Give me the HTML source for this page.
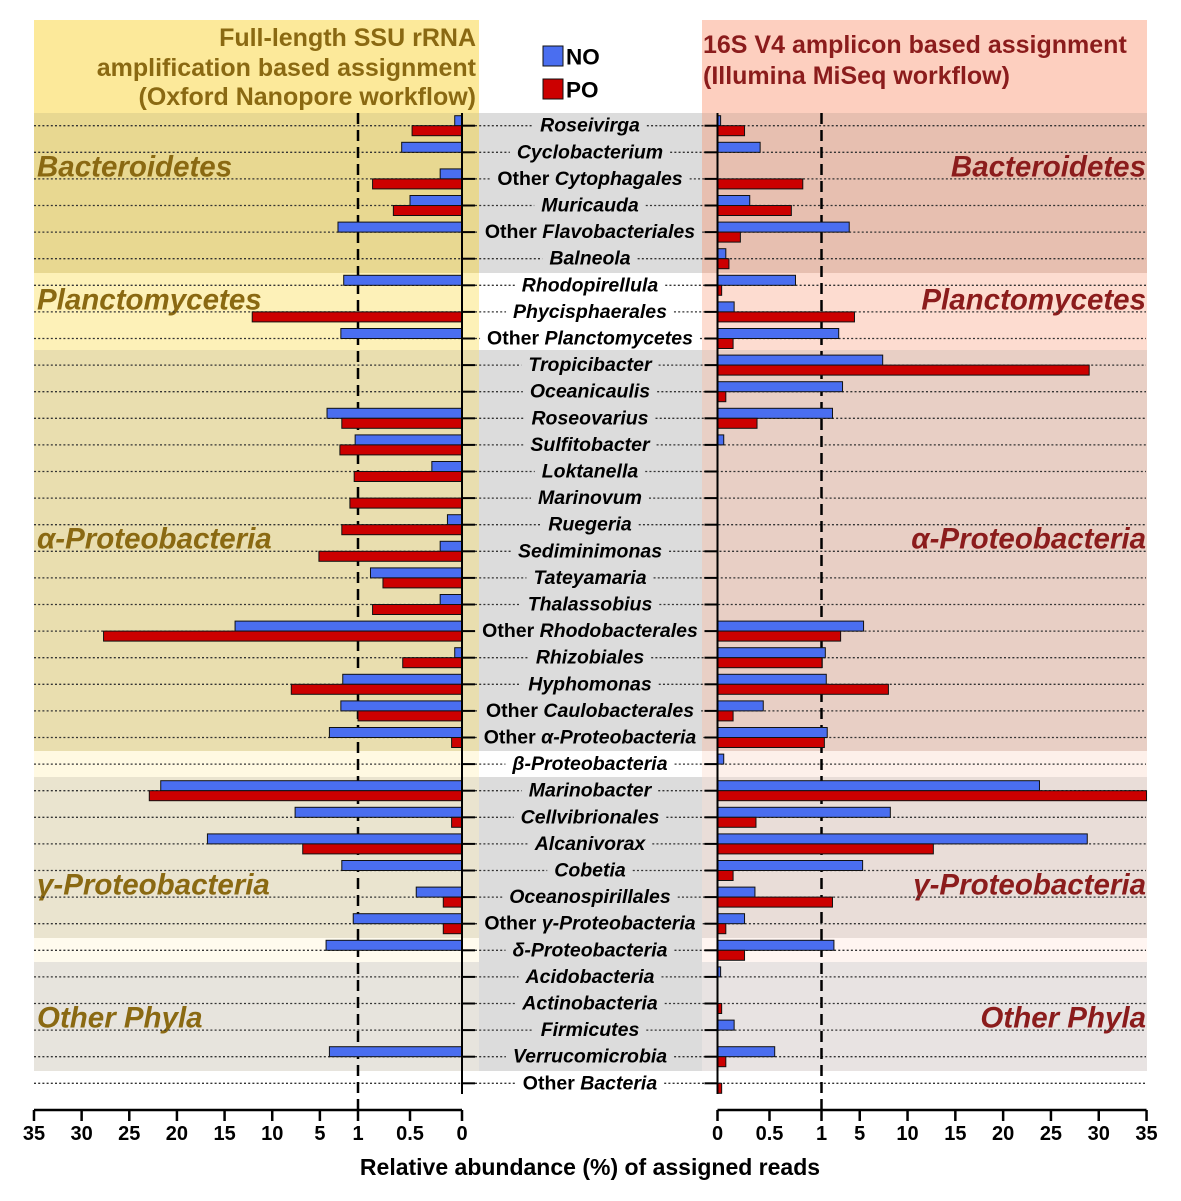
<!DOCTYPE html>
<html><head><meta charset="utf-8"><style>
html,body{margin:0;padding:0;background:#fff}
svg{display:block}
text{font-family:"Liberation Sans",sans-serif;font-weight:bold}
</style></head><body>
<svg id="chart" width="1181" height="1201" viewBox="0 0 1181 1201" xmlns="http://www.w3.org/2000/svg"></svg>
<script>
const taxa = ["Roseivirga","Cyclobacterium","Other |Cytophagales","Muricauda","Other |Flavobacteriales","Balneola","Rhodopirellula","Phycisphaerales","Other |Planctomycetes","Tropicibacter","Oceanicaulis","Roseovarius","Sulfitobacter","Loktanella","Marinovum","Ruegeria","Sediminimonas","Tateyamaria","Thalassobius","Other |Rhodobacterales","Rhizobiales","Hyphomonas","Other |Caulobacterales","Other |α-Proteobacteria","β-Proteobacteria","Marinobacter","Cellvibrionales","Alcanivorax","Cobetia","Oceanospirillales","Other |γ-Proteobacteria","δ-Proteobacteria","Acidobacteria","Actinobacteria","Firmicutes","Verrucomicrobia","Other |Bacteria"];
const nanoNO = [0.07,0.58,0.21,0.5,3.1,0,2.5,0,2.8,0,0,4.25,1.3,0.29,0,0.14,0.21,0.88,0.21,13.9,0.07,2.6,2.8,4.0,0,21.7,7.6,16.8,2.7,0.44,1.5,4.35,0,0,0,4.0,0];
const nanoPO = [0.48,0,0.86,0.66,0,0,0,12.1,0,0,0,2.7,2.9,1.4,1.85,2.7,5.1,0.76,0.86,27.7,0.57,8.0,1.0,0.1,0,22.9,0.1,6.8,0,0.18,0.18,0,0,0,0,0,0];
const miseqNO = [0.03,0.41,0,0.31,3.9,0.08,0.75,0.16,2.8,7.4,3.2,2.15,0.06,0,0,0,0,0,0,5.4,1.4,1.5,0.44,1.6,0.06,23.8,8.2,28.8,5.3,0.36,0.26,2.3,0.03,0,0.16,0.55,0];
const miseqPO = [0.26,0,0.82,0.71,0.22,0.11,0.04,4.45,0.15,29.0,0.08,0.38,0,0,0,0,0,0,0,3.0,1.05,8.0,0.15,1.3,0,35,0.37,12.7,0.15,2.15,0.08,0.26,0,0.04,0,0.08,0.04];
const tickLabels = [0,0.5,1,5,10,15,20,25,30,35];

const NS="http://www.w3.org/2000/svg";
const svg=document.getElementById('chart');
function mk(tag,attrs,parent){const e=document.createElementNS(NS,tag);for(const k in attrs)e.setAttribute(k,attrs[k]);(parent||svg).appendChild(e);return e;}
function dist(v,s){return v<=1? v*104 : 104+(v-1)*s;}
const L0=462, R0=717.5, LS=9.53, RS=9.56;
function xL(v){return L0-dist(v,LS);}
function xR(v){return R0+dist(v,RS);}
const Y0=125.7, DY=26.6;
function yRow(i){return Y0+i*DY;}

const bands=[[113,273,'#e8d891','#e7bfb0',true],[273,350,'#fdf1b8','#fddcd0',false],[350,751,'#e9deaf','#e8cfc5',true],[751,777,'#fff9e2','#fdf0ea',false],[777,938,'#eae4cf','#e9ddd8',true],[938,962,'#fffbee','#fff5f1',true],[962,1071,'#e7e4dd','#e8e3e2',true]];
let r;
r=mk('rect',{x:34,y:20,width:445,height:93,fill:'#fce99a'});


r=mk('rect',{x:702,y:20,width:445,height:93,fill:'#fdcfbf'});


bands.forEach(b=>{
 let a=mk('rect',{x:34,y:b[0],width:445,height:b[1]-b[0],fill:b[2]});
 
 
 let c=mk('rect',{x:702,y:b[0],width:445,height:b[1]-b[0],fill:b[3]});
 
 
 if(b[4]){let g=mk('rect',{x:479,y:b[0],width:223,height:b[1]-b[0],fill:'#dcdcdc'});
 
 }
});

function txt(s,x,y,size,fill,anchor,style,name){const t=mk('text',{x:x,y:y,'font-size':size,fill:fill,'text-anchor':anchor||'start','dominant-baseline':'central','font-style':style||'normal'});t.textContent=s;return t;}
txt('Full-length SSU rRNA',476,38,25,'#8a6912','end','normal','left-header-line1');
txt('amplification based assignment',476,68,25,'#8a6912','end','normal','left-header-line2');
txt('(Oxford Nanopore workflow)',476,97,25,'#8a6912','end','normal','left-header-line3');
txt('16S V4 amplicon based assignment',703,45,25,'#8b1c1c','start','normal','right-header-line1');
txt('(Illumina MiSeq workflow)',703,76,25,'#8b1c1c','start','normal','right-header-line2');

r=mk('rect',{x:543,y:46,width:20,height:20,fill:'#4a6ef0',stroke:'#111','stroke-width':1});


txt('NO',566,57,22.5,'#000','start','normal','legend-no-label');
r=mk('rect',{x:543,y:79,width:20,height:20,fill:'#cc0000',stroke:'#111','stroke-width':1});


txt('PO',566,90,22.5,'#000','start','normal','legend-po-label');

const groups=[['Bacteroidetes',167],['Planctomycetes',300],['α-Proteobacteria',539],['γ-Proteobacteria',885],['Other Phyla',1018]];
groups.forEach(g=>{
 txt(g[0],37,g[1],29.5,'#8a6912','start','italic','left-group-label');
 txt(g[0],1146,g[1],29.5,'#8b1c1c','end','italic','right-group-label');
});

taxa.forEach((name,i)=>{
 const y=yRow(i);
 const parts=name.split('|');
 const t=mk('text',{x:590,y:y,'font-size':19.5,'text-anchor':'middle','dominant-baseline':'central',fill:'#000'});
 
 
 if(parts.length>1){const a=mk('tspan',{},t);a.textContent=parts[0];const b=mk('tspan',{'font-style':'italic'},t);b.textContent=parts[1];}
 else{const b=mk('tspan',{'font-style':'italic'},t);b.textContent=parts[0];}
 const w=t.getComputedTextLength();
 let d1=mk('line',{x1:34,x2:590-w/2-7,y1:y,y2:y,stroke:'#333','stroke-width':1.3,'stroke-dasharray':'2,2.2'});
 
 
 let d2=mk('line',{x1:590+w/2+7,x2:1146,y1:y,y2:y,stroke:'#333','stroke-width':1.3,'stroke-dasharray':'2,2.2'});
 
 
});

let dl=mk('line',{x1:xL(1),x2:xL(1),y1:113,y2:1110,stroke:'#000','stroke-width':2.5,'stroke-dasharray':'11,6'});


dl=mk('line',{x1:xR(1),x2:xR(1),y1:113,y2:1110,stroke:'#000','stroke-width':2.5,'stroke-dasharray':'11,6'});



function bar(x1,x2,y,fill,name){if(Math.abs(x2-x1)<0.01)return;const b=mk('rect',{x:Math.min(x1,x2),y:y,width:Math.abs(x2-x1),height:10,fill:fill,stroke:'#111','stroke-width':1});}
taxa.forEach((n,i)=>{
 const y=yRow(i);
 bar(L0,xL(nanoNO[i]),y-10,'#4a6ef0','nanopore-no-bar');
 bar(L0,xL(nanoPO[i]),y,'#cc0000','nanopore-po-bar');
 bar(R0,xR(miseqNO[i]),y-10,'#4a6ef0','miseq-no-bar');
 bar(R0,xR(miseqPO[i]),y,'#cc0000','miseq-po-bar');
});

let z=mk('line',{x1:L0,x2:L0,y1:113,y2:1094,stroke:'#000','stroke-width':2});


z=mk('line',{x1:R0,x2:R0,y1:113,y2:1094,stroke:'#000','stroke-width':2});


taxa.forEach((n,i)=>{
 const y=yRow(i);
 let t1=mk('line',{x1:L0,x2:L0+13,y1:y,y2:y,stroke:'#000','stroke-width':2});
 
 
 let t2=mk('line',{x1:R0-13,x2:R0,y1:y,y2:y,stroke:'#000','stroke-width':2});
 
 
});

let ax=mk('line',{x1:xL(35),x2:L0,y1:1110,y2:1110,stroke:'#000','stroke-width':2.5});


ax=mk('line',{x1:R0,x2:xR(35),y1:1110,y2:1110,stroke:'#000','stroke-width':2.5});


tickLabels.forEach(v=>{
 [[xL(v),'left'],[xR(v),'right']].forEach(p=>{
  let tk=mk('line',{x1:p[0],x2:p[0],y1:1110,y2:1121,stroke:'#000','stroke-width':2.5});
  
  
  txt(String(v),p[0],1134,20,'#000','middle','normal',p[1]+'-x-tick-label');
 });
});
txt('Relative abundance (%) of assigned reads',590,1167,23,'#000','middle','normal','x-axis-title');
</script>
</body></html>
